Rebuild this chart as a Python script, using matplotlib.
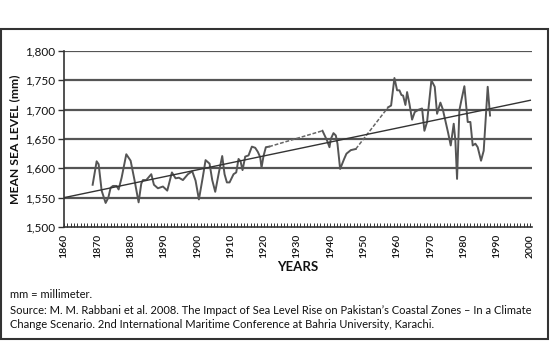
import matplotlib
matplotlib.use("Agg")
import matplotlib.pyplot as plt
from matplotlib.patches import Rectangle
from matplotlib.ticker import FuncFormatter, MultipleLocator

plt.rcParams['font.family'] = ['Lato', 'DejaVu Sans']

# Segment 1 (observed)
years_1 = [1868.6, 1869.8, 1870.4, 1871.3, 1872.5, 1873.3, 1874.0, 1874.7, 1875.8, 1876.4,
           1877.3, 1878.7, 1880.0, 1881.2, 1882.4, 1883.2, 1883.7, 1884.7, 1886.2, 1887.0,
           1888.2, 1889.7, 1891.0, 1892.4, 1893.5, 1894.5, 1895.7, 1897.2, 1898.5, 1899.5,
           1900.5, 1901.7, 1902.5, 1903.7, 1904.5, 1905.4, 1906.5, 1907.5, 1908.2, 1908.9,
           1909.7, 1910.9, 1911.7, 1912.4, 1913.0, 1913.6, 1914.4, 1915.4, 1916.4, 1917.4,
           1918.2, 1918.9, 1919.3, 1919.9, 1920.6, 1921.6]
mm_1 = [1572, 1612, 1607, 1562, 1541, 1550, 1567, 1570, 1570, 1564,
        1584, 1624, 1613, 1579, 1542, 1574, 1580, 1580, 1590, 1572,
        1566, 1569, 1562, 1593, 1583, 1584, 1580, 1590, 1595, 1579,
        1547, 1586, 1614, 1608, 1580, 1560, 1593, 1621, 1590, 1576,
        1576, 1590, 1593, 1616, 1612, 1597, 1620, 1622, 1637, 1635,
        1628, 1619, 1601, 1621, 1636, 1637]

# Segment 2
years_2 = [1937.6, 1939.0, 1939.7, 1940.1, 1940.9, 1941.6, 1942.1, 1942.9, 1944.1, 1944.8,
           1946.1, 1947.6]
mm_2 = [1664, 1647, 1636, 1650, 1660, 1656, 1642, 1599, 1616, 1625, 1631, 1633]

# Segment 3
years_3 = [1957.3, 1958.2, 1959.2, 1960.0, 1960.7, 1961.3, 1961.8, 1962.5, 1963.0, 1963.7,
           1964.5, 1965.3, 1966.5, 1967.5, 1968.2, 1969.0, 1970.3, 1971.3, 1972.0, 1973.0,
           1973.7, 1974.5, 1975.3, 1976.1, 1977.0, 1977.5, 1978.0, 1978.7, 1979.3, 1980.2,
           1981.2, 1982.0, 1982.7, 1983.5, 1984.2, 1985.2, 1986.0, 1987.2, 1987.9]
mm_3 = [1704, 1707, 1754, 1733, 1733, 1725, 1724, 1708, 1730, 1710,
        1683, 1696, 1700, 1702, 1664, 1679, 1750, 1739, 1693, 1712,
        1701, 1681, 1661, 1639, 1676, 1647, 1582, 1699, 1716, 1740,
        1679, 1679, 1639, 1642, 1636, 1613, 1630, 1739, 1690]

trend_years = [1860, 2000]
trend_mm = [1550, 1716]

y_ticks = [1500, 1550, 1600, 1650, 1700, 1750, 1800]
x_ticks = list(range(1860, 2001, 10))

W, H = 550, 362
fig = plt.figure(figsize=(W / 100, H / 100), dpi=100)

# outer frame
fig.patches.append(Rectangle((1 / W, 1 - 339 / H), 547 / W, (339 - 29) / H,
                             transform=fig.transFigure, fill=False,
                             edgecolor='#333333', linewidth=1.5))

ax = fig.add_axes([64 / W, 1 - 227 / H, (532 - 64) / W, (227 - 51) / H])
ax.set_xlim(1860, 2000.5)
ax.set_ylim(1500, 1800)

for v in y_ticks[1:]:
    ax.axhline(v, color='#555555', linewidth=1.6, zorder=1)

line_kw = dict(color='#555555', linewidth=1.4, zorder=3)
ax.plot(years_1, mm_1, **line_kw)
ax.plot(years_2, mm_2, **line_kw)
ax.plot(years_3, mm_3, **line_kw)
# dashed bridges across the gaps
ax.plot([years_1[-1], years_2[0]], [mm_1[-1], mm_2[0]], color='#666666',
        linewidth=1.1, linestyle=(0, (2.5, 1.2)), zorder=3)
ax.plot([years_2[-1], years_3[0]], [mm_2[-1], mm_3[0]], color='#666666',
        linewidth=1.1, linestyle=(0, (2.5, 1.2)), zorder=3)

ax.plot(trend_years, trend_mm, color='#333333', linewidth=1.0, zorder=4)

for s in ['top', 'right']:
    ax.spines[s].set_visible(False)
for s in ['left', 'bottom']:
    ax.spines[s].set_color('#333333')
    ax.spines[s].set_linewidth(1.2)

ax.set_yticks(y_ticks)
ax.yaxis.set_major_formatter(FuncFormatter(lambda v, p: f"{int(v):,}"))
ax.tick_params(axis='y', direction='out', length=4, width=1, colors='#333333',
               labelsize=8.5, pad=2, labelcolor='#111111')

ax.set_xticks(x_ticks)
ax.xaxis.set_minor_locator(MultipleLocator(1))
ax.tick_params(axis='x', which='both', direction='in', length=3, width=0.7,
               colors='#333333', labelsize=7.5, pad=5, labelrotation=90, labelcolor='#111111')
for lbl in ax.get_xticklabels():
    lbl.set_fontweight('semibold')

ax.set_xlabel('YEARS', fontsize=9.5, fontweight='bold', labelpad=2, color='#111111')
ax.set_ylabel('MEAN SEA LEVEL (mm)', fontsize=8.7, fontweight='bold', labelpad=4, color='#111111')

txt_kw = dict(fontsize=8.0, va='center', ha='left', color='#111111')
fig.text(10 / W, 1 - 294 / H, 'mm = millimeter.', **txt_kw)
fig.text(10 / W, 1 - 311 / H,
         "Source: M. M. Rabbani et al. 2008. The Impact of Sea Level Rise on Pakistan\u2019s Coastal Zones \u2013 In a Climate",
         **txt_kw)
fig.text(10 / W, 1 - 325 / H,
         "Change Scenario. 2nd International Maritime Conference at Bahria University, Karachi.",
         **txt_kw)

fig.savefig('out.png', dpi=100)
